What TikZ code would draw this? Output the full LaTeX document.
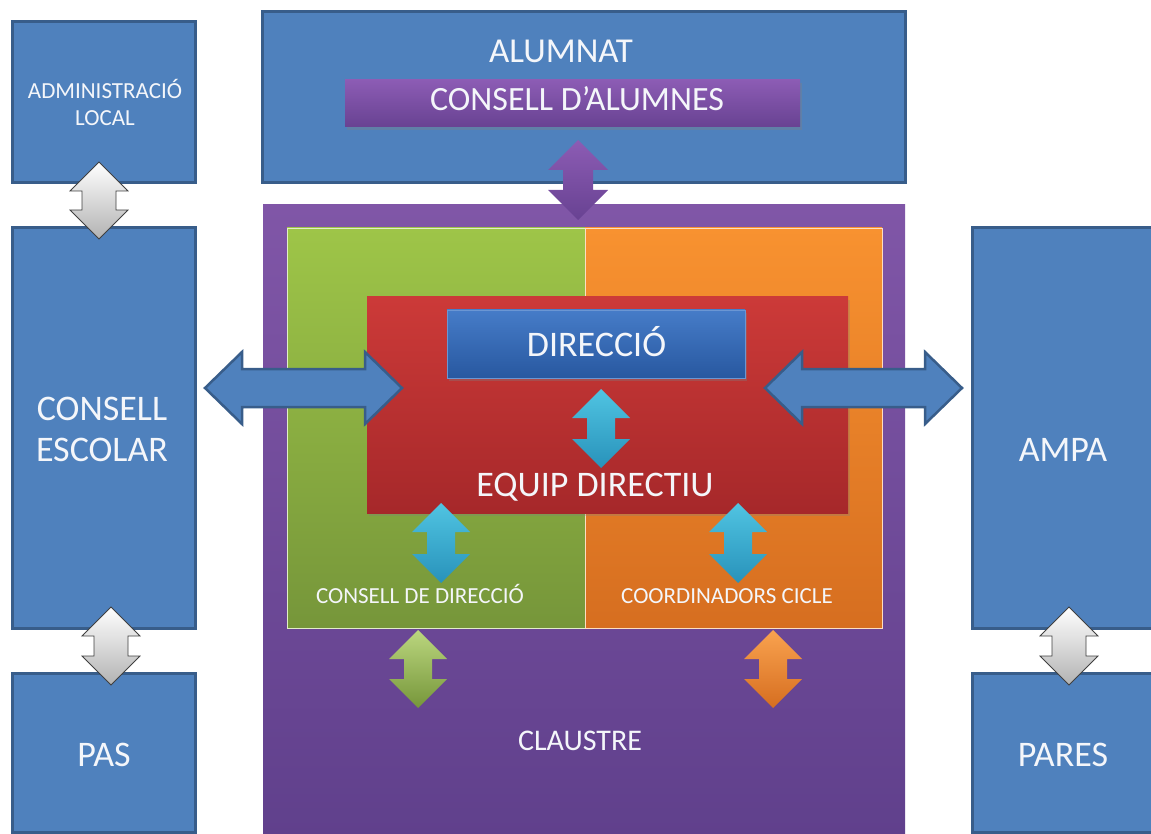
\documentclass[tikz,border=0pt]{standalone}
\usepackage{fontspec}
\setmainfont{Carlito}
\usetikzlibrary{shadows}

\definecolor{boxblue}{RGB}{79,129,189}
\definecolor{boxblueline}{RGB}{56,93,138}
\definecolor{purpletop}{RGB}{128,86,167}
\definecolor{purplebot}{RGB}{96,64,140}
\definecolor{greentop}{RGB}{158,197,72}
\definecolor{greenbot}{RGB}{118,150,58}
\definecolor{orangetop}{RGB}{248,146,48}
\definecolor{orangebot}{RGB}{214,110,32}
\definecolor{redtop}{RGB}{204,58,56}
\definecolor{redbot}{RGB}{166,40,42}
\definecolor{dirtop}{RGB}{70,124,200}
\definecolor{dirbot}{RGB}{40,88,160}
\definecolor{cdatop}{RGB}{140,92,180}
\definecolor{cdabot}{RGB}{104,66,146}
\definecolor{cyantop}{RGB}{80,196,226}
\definecolor{cyanbot}{RGB}{40,146,186}
\definecolor{textwhite}{RGB}{244,246,250}

% vertical double block arrow: style, x centre, top tip, bottom tip, half head, half shaft, head length
\newcommand\vblock[7]{\path[#1] (#2,#3) -- (#2+#5,#3+#7) -- (#2+#6,#3+#7) -- (#2+#6,#4-#7) -- (#2+#5,#4-#7) -- (#2,#4) -- (#2-#5,#4-#7) -- (#2-#6,#4-#7) -- (#2-#6,#3+#7) -- (#2-#5,#3+#7) -- cycle;}
% horizontal double block arrow: style, y centre, left tip, right tip, half head, half shaft, head length
\newcommand\hblock[7]{\path[#1] (#3,#2) -- (#3+#7,#2-#5) -- (#3+#7,#2-#6) -- (#4-#7,#2-#6) -- (#4-#7,#2-#5) -- (#4,#2) -- (#4-#7,#2+#5) -- (#4-#7,#2+#6) -- (#3+#7,#2+#6) -- (#3+#7,#2+#5) -- cycle;}

\tikzset{
  bluebox/.style={draw=boxblueline, line width=3pt, fill=boxblue, inner sep=0pt},
  lbl/.style={text=textwhite, anchor=base, inner sep=0pt},
  greyarrow/.style={draw=black!75, line width=0.8pt, top color=white, bottom color=black!30},
  cyanarrow/.style={top color=cyantop, bottom color=cyanbot},
  bluearrow/.style={draw=boxblueline, line width=2.5pt, fill=boxblue},
}

\begin{document}
\begin{tikzpicture}[x=1pt, y=-1pt]
\useasboundingbox (0,0) rectangle (1151,834);

% outer boxes
\node[bluebox, minimum width=183pt, minimum height=161pt] (adm) at (103.5,102.5) {};
\node[bluebox, minimum width=183pt, minimum height=400pt] (ce) at (103.5,428) {};
\node[bluebox, minimum width=183pt, minimum height=159pt] (pas) at (103.5,752.5) {};
\node[bluebox, minimum width=643pt, minimum height=171pt] (alu) at (583.5,97.5) {};
\node[bluebox, minimum width=190pt, minimum height=400pt] (ampa) at (1067,428) {};
\node[bluebox, minimum width=190pt, minimum height=159pt] (pares) at (1067,752.5) {};

% claustre and its inner areas
\node[inner sep=0pt, top color=purpletop, bottom color=purplebot, minimum width=642pt, minimum height=632pt] (cla) at (584,521) {};
\node[inner sep=0pt, top color=greentop, bottom color=greenbot, draw=white!70!greentop, line width=0.6pt, minimum width=298pt, minimum height=400pt] (green) at (436,428) {};
\node[inner sep=0pt, top color=orangetop, bottom color=orangebot, draw=white!70!orangetop, line width=0.6pt, minimum width=297pt, minimum height=400pt] (orange) at (733.5,428) {};
\node[inner sep=0pt, top color=redtop, bottom color=redbot, minimum width=481pt, minimum height=216pt,
      drop shadow={opacity=0.3, shadow xshift=2pt, shadow yshift=-3pt}] (red) at (607.5,405) {};
\node[inner sep=0pt, top color=dirtop, bottom color=dirbot, draw=dirtop!80!white, line width=0.6pt, minimum width=298pt, minimum height=68pt,
      drop shadow={opacity=0.35, shadow xshift=2pt, shadow yshift=-3pt}] (dir) at (596,344) {};
\node[inner sep=0pt, top color=cdatop, bottom color=cdabot, minimum width=455pt, minimum height=47pt,
      drop shadow={opacity=0.35, shadow xshift=2pt, shadow yshift=-3pt}] (cda) at (572.5,103.5) {};

% labels
\node[lbl, font=\fontsize{23}{26}\selectfont] (admt1) at (105,99) {ADMINISTRACIÓ};
\node[lbl, font=\fontsize{23}{26}\selectfont] (admt2) at (105,126) {LOCAL};
\node[lbl, font=\fontsize{36}{40}\selectfont] (cet1) at (102,420) {CONSELL};
\node[lbl, font=\fontsize{36}{40}\selectfont] (cet2) at (102,461.6) {ESCOLAR};
\node[lbl, font=\fontsize{36}{40}\selectfont] (past) at (104,766) {PAS};
\node[lbl, font=\fontsize{35}{40}\selectfont] (alut) at (561,62.8) {ALUMNAT};
\node[lbl, font=\fontsize{34}{40}\selectfont] (cdat) at (577,111) {CONSELL D’ALUMNES};
\node[lbl, font=\fontsize{36}{40}\selectfont] (dirt) at (596.5,356.6) {DIRECCIÓ};
\node[lbl, font=\fontsize{36}{40}\selectfont] (eqt) at (595,496.6) {EQUIP DIRECTIU};
\node[lbl, font=\fontsize{23}{26}\selectfont] (cdt) at (420,603.4) {CONSELL DE DIRECCIÓ};
\node[lbl, font=\fontsize{23}{26}\selectfont] (cct) at (727,603.4) {COORDINADORS CICLE};
\node[lbl, font=\fontsize{30}{34}\selectfont] (clat) at (580,750) {CLAUSTRE};
\node[lbl, font=\fontsize{36}{40}\selectfont] (ampat) at (1063,461.6) {AMPA};
\node[lbl, font=\fontsize{36}{40}\selectfont] (parest) at (1063,766) {PARES};

% block arrows between the boxes
\vblock{greyarrow}{99}{162}{239}{29}{17}{29}
\vblock{greyarrow}{111}{607}{685}{29}{17}{29}
\vblock{greyarrow}{1069}{607}{685}{29}{17}{29}
\vblock{top color=cdatop, bottom color=cdabot}{578}{140}{220}{30}{15}{30}
\vblock{cyanarrow}{601}{389}{468}{29}{14}{29}
\vblock{cyanarrow}{441}{503}{583}{29}{14}{29}
\vblock{cyanarrow}{738}{503}{583}{29}{14}{29}
\vblock{top color=greentop!70!white, bottom color=greenbot}{418}{630}{708}{29}{14}{29}
\vblock{top color=orangetop!85!white, bottom color=orangebot}{773}{630}{708}{29}{14}{29}
\hblock{bluearrow}{388}{205}{402}{36}{19}{37}
\hblock{bluearrow}{388}{765}{962}{36}{19}{37}
\end{tikzpicture}
\end{document}
